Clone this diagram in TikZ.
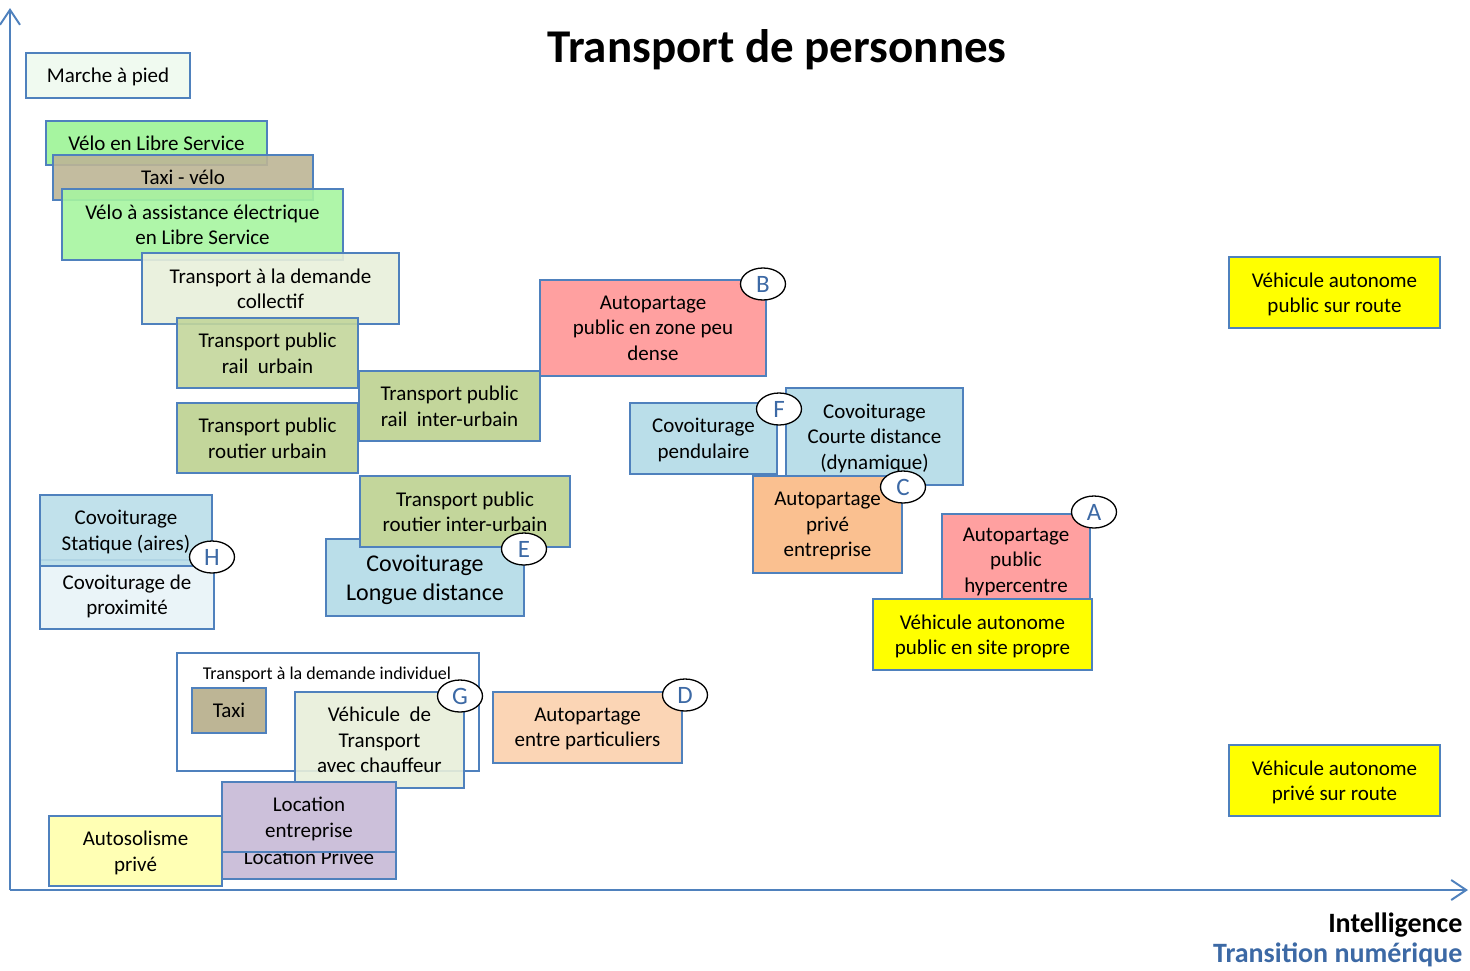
\documentclass[tikz,border=0pt]{standalone}
\usepackage{fontspec}
\setmainfont{Carlito}
\usetikzlibrary{arrows.meta,shapes.geometric}

\definecolor{edge}{RGB}{79,129,189}
\definecolor{letter}{RGB}{60,105,165}
\definecolor{marche}{RGB}{240,250,240}
\definecolor{velo}{RGB}{166,245,160}
\definecolor{tan}{RGB}{189,181,149}
\definecolor{olivelight}{RGB}{232,239,218}
\definecolor{olive}{RGB}{195,214,155}
\definecolor{covoit}{RGB}{186,222,233}
\definecolor{covoitlight}{RGB}{234,244,248}
\definecolor{rose}{RGB}{255,160,160}
\definecolor{orange}{RGB}{250,192,144}
\definecolor{peach}{RGB}{251,213,181}
\definecolor{purple}{RGB}{204,192,218}
\definecolor{jaune}{RGB}{255,255,0}
\definecolor{jaunelight}{RGB}{255,255,180}

\begin{document}
\begin{tikzpicture}[x=1pt,y=-1pt,>={Straight Barb[length=15pt,width=20pt]},
    box/.style={draw=edge,line width=1.5pt,inner sep=0pt,align=center,text depth=0pt,font=\fontsize{21}{25.5}\selectfont},
    sz/.style 2 args={minimum width=#1pt,minimum height=#2pt},
    see/.style={fill opacity=.9,text opacity=1},
    tag/.style={ellipse,draw=black,line width=1.3pt,fill=white,inner sep=0pt,minimum width=45pt,minimum height=32pt,text=letter,font=\fontsize{25}{25}\selectfont}]
    \useasboundingbox (0,0) rectangle (1470,970);

    \coordinate (o) at (10,890);
    \coordinate (ytop) at (10,8);
    \coordinate (xend) at (1468,890);
    \draw[->,edge,line width=2pt] (o) -- (ytop);
    \draw[->,edge,line width=2pt] (o) -- (xend);

    \node[font=\fontsize{47}{56}\selectfont\bfseries] (title) at (777,50) {Transport de personnes};
    \node[anchor=east,font=\fontsize{28}{30}\selectfont\bfseries] (intel) at (1466,925) {Intelligence};
    \node[anchor=east,text=letter,font=\fontsize{28}{30}\selectfont\bfseries] (numerique) at (1466,955) {Transition numérique};

    \node[box,fill=marche,sz={164}{45}] (marche) at (108,75.5) {Marche à pied};
    \node[box,fill=velo,sz={221}{44}] (vls) at (156.5,143) {Vélo en Libre Service};
    \node[box,see,fill=tan,sz={260}{45}] (taxivelo) at (183,177.5) {Taxi - vélo};
    \node[box,see,fill=velo,sz={281}{71}] (vae) at (202.5,224.5) {Vélo à assistance électrique\\en Libre Service};
    \node[box,see,fill=olivelight,sz={257}{71}] (tadc) at (270.5,288.5) {Transport à la demande\\collectif};
    \node[box,see,fill=olive,sz={181}{70}] (railu) at (267.5,353) {Transport public\\rail~ urbain};
    \node[box,fill=olive,sz={181}{70}] (routu) at (267.5,438) {Transport public\\routier urbain};
    \node[box,fill=olive,sz={181}{70}] (raili) at (449.5,406) {Transport public\\rail~ inter-urbain};
    \node[box,fill=covoit,sz={198}{77},font=\fontsize{24}{29}\selectfont] (covl) at (425,577.5) {Covoiturage\\Longue distance};
    \node[box,fill=olive,sz={210}{71}] (routi) at (465,511.5) {Transport public\\routier inter-urbain};
    \node[tag] (E) at (524,549) {E};

    \node[box,fill=covoitlight,sz={174}{69}] (prox) at (127,594.5) {Covoiturage de\\proximité};
    \node[box,see,fill=covoit,sz={172}{71}] (stat) at (126,530.5) {Covoiturage\\Statique (aires)};
    \node[tag] (H) at (212,557) {H};

    \node[box,fill=white,sz={302}{118}] (tadi) at (328,712) {};
    \node[font=\fontsize{18}{20}\selectfont] (tadilabel) at (327,675) {Transport à la demande individuel};
    \node[box,fill=tan,sz={74}{45}] (taxi) at (229,710.5) {Taxi};
    \node[box,see,fill=olivelight,sz={169}{96}] (vtc) at (379.5,740) {Véhicule~ de\\Transport\\avec chauffeur};
    \node[tag] (G) at (460,696) {G};

    \node[box,fill=purple,sz={174}{44}] (locp) at (309,857) {Location Privée};
    \node[box,fill=purple,sz={174}{70}] (loce) at (309,817) {Location\\entreprise};
    \node[box,fill=jaunelight,sz={173}{70}] (auto) at (135.5,851) {Autosolisme\\privé};

    \node[box,fill=peach,sz={189}{71}] (apart) at (587.5,727.5) {Autopartage\\entre particuliers};
    \node[tag] (D) at (685,695) {D};

    \node[box,fill=rose,sz={226}{96}] (dense) at (653,328) {Autopartage\\public en zone peu\\dense};
    \node[tag] (B) at (763,284) {B};

    \node[box,fill=covoit,sz={147}{71}] (pend) at (703.5,438.5) {Covoiturage\\pendulaire};
    \node[box,fill=covoit,sz={177}{97}] (courte) at (874.5,436.5) {Covoiturage\\Courte distance\\(dynamique)};
    \node[tag] (F) at (779,409) {F};
    \node[box,fill=orange,sz={149}{97}] (apent) at (827.5,524.5) {Autopartage\\privé\\entreprise};
    \node[tag] (C) at (903,487) {C};

    \node[box,fill=rose,sz={148}{92}] (hyper) at (1016,560) {Autopartage\\public\\hypercentre};
    \node[box,fill=jaune,sz={219}{71}] (vasp) at (982.5,634.5) {Véhicule autonome\\public en site propre};
    \node[tag] (A) at (1094,512) {A};

    \node[box,fill=jaune,sz={211}{71}] (vasr) at (1334.5,292.5) {Véhicule autonome\\public sur route};
    \node[box,fill=jaune,sz={211}{71}] (vapr) at (1334.5,780.5) {Véhicule autonome\\privé sur route};
\end{tikzpicture}
\end{document}
